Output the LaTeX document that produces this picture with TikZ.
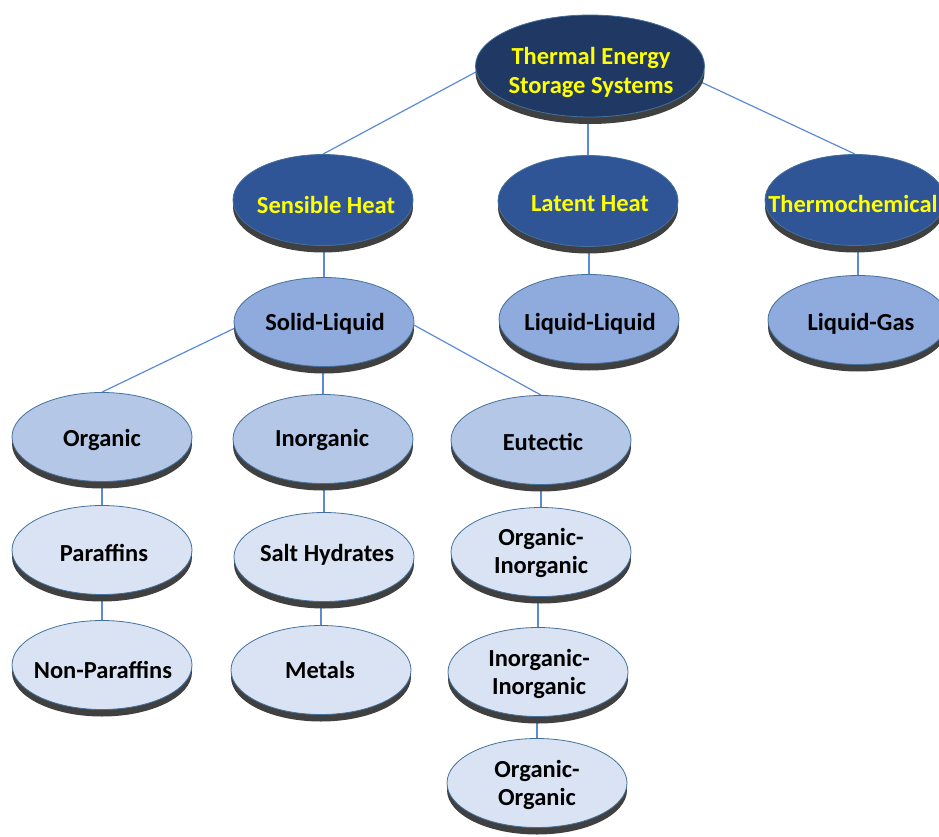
\documentclass[tikz,border=0pt]{standalone}
\usepackage{fontspec}
\setmainfont{Carlito}
\usetikzlibrary{shapes.geometric,shadows,backgrounds}
\definecolor{cA}{HTML}{1F3864}
\definecolor{cB}{HTML}{2F5597}
\definecolor{cC}{HTML}{8FAADC}
\definecolor{cD}{HTML}{B4C7E7}
\definecolor{cE}{HTML}{DAE3F3}
\definecolor{outl}{HTML}{41719C}
\definecolor{conn}{HTML}{5B8BD6}
\definecolor{shad}{HTML}{404040}
\definecolor{ytxt}{HTML}{FFFF00}
\tikzset{
  disc/.style={ellipse, draw=outl, line width=0.8pt, inner sep=0pt,
    minimum width=180pt, minimum height=89pt,
    drop shadow={shadow xshift=0pt, shadow yshift=-7pt, fill=shad, opacity=1}},
  lvA/.style={disc, fill=cA, minimum width=229pt, minimum height=102pt},
  lvB/.style={disc, fill=cB, minimum height=91pt},
  lvC/.style={disc, fill=cC},
  lvD/.style={disc, fill=cD},
  lvE/.style={disc, fill=cE},
  ytext/.style={text=ytxt, font=\bfseries\fontsize{24.5}{29}\selectfont, align=center, inner sep=0pt},
  btext/.style={text=black, font=\bfseries\fontsize{24.5}{28}\selectfont, align=center, inner sep=0pt},
  link/.style={draw=conn, line width=1.2pt}
}
\begin{document}
\begin{tikzpicture}[x=1pt,y=-1pt]
\useasboundingbox (0,0) rectangle (939,837);
% nodes
\node[lvA] (tes) at (590,66) {};
\node[ytext] (tes-t) at (591,72) {Thermal Energy\\Storage Systems};
\node[lvB] (sens) at (323,200) {};
\node[ytext] (sens-t) at (326,205) {Sensible Heat};
\node[lvB] (lat) at (588,201) {};
\node[ytext] (lat-t) at (590,204) {Latent Heat};
\node[lvB] (thermo) at (855,200) {};
\node[ytext] (thermo-t) at (853,204) {Thermochemical};
\node[lvC] (sl) at (324,322) {};
\node[btext] (sl-t) at (325,324) {Solid-Liquid};
\node[lvC] (ll) at (589,319) {};
\node[btext] (ll-t) at (590,324) {Liquid-Liquid};
\node[lvC] (lg) at (858,320) {};
\node[btext] (lg-t) at (861,324) {Liquid-Gas};
\node[lvD] (org) at (102,437) {};
\node[btext] (org-t) at (102,440) {Organic};
\node[lvD] (inorg) at (323,439) {};
\node[btext] (inorg-t) at (322,440) {Inorganic};
\node[lvD] (eut) at (541,440) {};
\node[btext] (eut-t) at (543,442) {Eutectic};
\node[lvE] (par) at (102,550) {};
\node[btext] (par-t) at (104,553) {Paraffins};
\node[lvE] (salt) at (324,557) {};
\node[btext] (salt-t) at (327,555) {Salt Hydrates};
\node[lvE] (oi) at (541,552) {};
\node[btext] (oi-t) at (541,553) {Organic-\\Inorganic};
\node[lvE] (npar) at (102,665) {};
\node[btext] (npar-t) at (103,670) {Non-Paraffins};
\node[lvE] (met) at (321,670) {};
\node[btext] (met-t) at (320,670) {Metals};
\node[lvE] (ii) at (538,672) {};
\node[btext] (ii-t) at (539,674) {Inorganic-\\Inorganic};
\node[lvE] (oo) at (537,783) {};
\node[btext] (oo-t) at (537,785) {Organic-\\Organic};
% connectors
\begin{scope}[on background layer]
\draw[link] (tes.183) -- (sens.north);
\draw[link] (lat.north) -- (lat.north |- tes.south);
\draw[link] (tes.352) -- (thermo.north);
\draw[link] (sl.north) -- (sl.north |- sens.south);
\draw[link] (ll.north) -- (ll.north |- lat.south);
\draw[link] (lg.north) -- (lg.north |- thermo.south);
\draw[link] (sl.184) -- (org.north);
\draw[link] (inorg.north) -- (inorg.north |- sl.south);
\draw[link] (sl.358) -- (eut.north);
\draw[link] (par.north) -- (par.north |- org.south);
\draw[link] (npar.north) -- (npar.north |- par.south);
\draw[link] (salt.north) -- (salt.north |- inorg.south);
\draw[link] (met.north) -- (met.north |- salt.south);
\draw[link] (oi.north) -- (oi.north |- eut.south);
\draw[link] (ii.north) -- (ii.north |- oi.south);
\draw[link] (oo.north) -- (oo.north |- ii.south);
\end{scope}
\end{tikzpicture}
\end{document}
